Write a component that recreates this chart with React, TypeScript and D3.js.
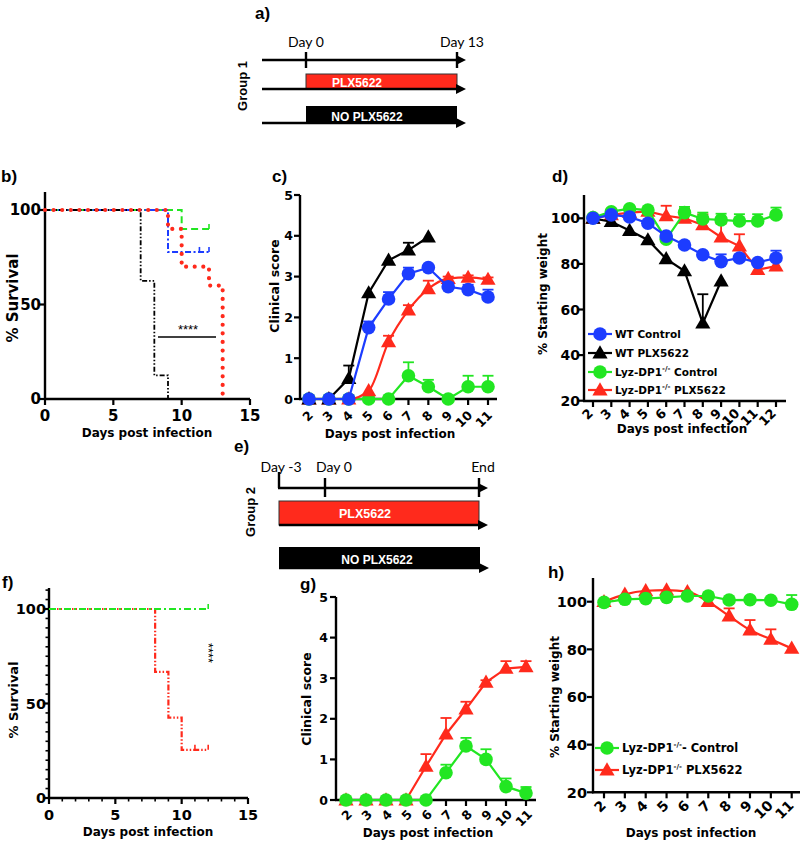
import React from 'react'
import * as d3 from 'd3'

const BOLD = "'DejaVu Sans', sans-serif"
const ARIAL = "'Liberation Sans', Arial, sans-serif"
const THIN = "Lato, 'Open Sans', sans-serif"

const RED = '#ff2a1c'
const GREEN = '#22e622'
const BLUE = '#1c3cff'
const BLACK = '#000'

// b) survival, group 1   [day, % survival]
const survB_WTControl = [[0, 100], [9, 77.8], [12, 77.8]]
const survB_WTPLX = [[0, 100], [7, 62.5], [8, 12.5], [9, 0]]
const survB_KOControl = [[0, 100], [10, 90], [12, 90]]
const survB_KOPLX = [[0, 100], [9, 90], [10, 70], [12, 60], [13, 0]]
const censorB_WTControl = [11.3, 12]
const censorB_KOControl = [12]

// f) survival, group 2
const survF_KOControl = [[0, 100], [12, 100]]
const survF_KOPLX = [[0, 100], [8, 66.7], [9, 42.5], [10, 25.5], [12, 25.5]]
const censorF_KOControl = [12]
const censorF_KOPLX = [11, 12]

const survTicks = [0, 50, 100]
const kmDayTicks = [0, 5, 10, 15]

// c) clinical score, group 1
const daysC = [2, 3, 4, 5, 6, 7, 8, 9, 10, 11]
const scoreC_WTControl = [0, 0, 0, 1.75, 2.45, 3.07, 3.22, 2.75, 2.68, 2.5]
const scoreC_WTControlErr = [0, 0, 0, 0.15, 0.17, 0.15, 0, 0.1, 0.12, 0.18]
const daysC_WTPLX = [2, 3, 4, 5, 6, 7, 8]
const scoreC_WTPLX = [0, 0, 0.5, 2.6, 3.4, 3.65, 3.97]
const scoreC_WTPLXErr = [0, 0, 0.32, 0, 0, 0.18, 0]
const scoreC_KOControl = [0, 0, 0, 0, 0, 0.57, 0.3, 0, 0.3, 0.3]
const scoreC_KOControlErr = [0, 0, 0, 0, 0, 0.33, 0.17, 0, 0.27, 0.27]
const scoreC_KOPLX = [0, 0, 0, 0.2, 1.4, 2.18, 2.7, 2.95, 2.98, 2.93]
const scoreC_KOPLXErr = [0, 0, 0, 0, 0.15, 0.12, 0.2, 0.05, 0.05, 0.05]

// d) weight, group 1
const daysD = [2, 3, 4, 5, 6, 7, 8, 9, 10, 11, 12]
const wtD_WTControl = [100, 101.5, 100.6, 97.8, 92.2, 88.3, 84, 81, 82.6, 80.6, 82.6]
const wtD_WTControlErr = [0, 0, 0, 0, 0, 0, 0, 3.2, 0, 0, 3.2]
const daysD_WTPLX = [2, 3, 4, 5, 6, 7, 8, 9]
const wtD_WTPLX = [100, 98.5, 94.6, 90.5, 82.2, 76.9, 54, 72.5]
const wtD_WTPLXErr = [0, 0, 0, 0, 0, 0, 12.7, 0]
const wtD_KOControl = [100.3, 102.9, 104.2, 103.6, 90.8, 102.5, 99.7, 99.3, 98.8, 98.8, 101.5]
const wtD_KOControlErr = [0, 0, 0, 0, 0, 2.5, 2.8, 2.7, 3, 3, 3.2]
const wtD_KOPLX = [100, 101.5, 102.5, 103, 101.1, 100, 97.1, 91.7, 87.8, 77.5, 79]
const wtD_KOPLXErr = [0, 0, 0, 0, 4.4, 4.2, 4.6, 6, 5.2, 0, 0]

// g) clinical score, group 2
const daysG = [2, 3, 4, 5, 6, 7, 8, 9, 10, 11]
const scoreG_KOControl = [0, 0, 0, 0, 0, 0.67, 1.33, 1.0, 0.33, 0.17]
const scoreG_KOControlErr = [0, 0, 0, 0, 0, 0.2, 0.2, 0.25, 0.2, 0.15]
const scoreG_KOPLX = [0, 0, 0, 0, 0.83, 1.62, 2.24, 2.9, 3.24, 3.28]
const scoreG_KOPLXErr = [0, 0, 0, 0, 0.3, 0.4, 0.18, 0.05, 0.18, 0.14]

// h) weight, group 2
const daysH = [2, 3, 4, 5, 6, 7, 8, 9, 10, 11]
const wtH_KOControl = [99.7, 101, 101.3, 101.8, 102.4, 102.4, 100.7, 100.8, 100.6, 98.9]
const wtH_KOControlErr = [0, 0, 0, 0, 0, 0, 0, 0, 0, 3.9]
const wtH_KOPLX = [100, 103.1, 104.6, 104.9, 104.2, 100, 94, 88.1, 84.2, 80.4]
const wtH_KOPLXErr = [0, 0, 0, 0, 0, 0, 3.2, 4.2, 4.2, 0]

const scoreTicks = [0, 1, 2, 3, 4, 5]
const weightTicks = [20, 40, 60, 80, 100]

const triPath = d3.symbol().type(d3.symbolTriangle).size(100)()

function Marker({ cx, cy, color, shape }) {
  if (shape === 'tri') return <path d={triPath} transform={`translate(${cx},${cy + 1})`} fill={color} />
  return <circle cx={cx} cy={cy} r={6.8} fill={color} />
}

function LeftAxis({ y, x, top, ticks, fs, minor = [] as number[], labelX }) {
  const bottom = y.range()[0]
  return (
    <g>
      <line x1={x} x2={x} y1={top} y2={bottom + 1} stroke="#000" strokeWidth={2.4} />
      {minor.map(t => <line key={'m' + t} x1={x - 3.5} x2={x} y1={y(t)} y2={y(t)} stroke="#000" strokeWidth={1.6} />)}
      {ticks.map(t => (
        <g key={t}>
          <line x1={x - 6} x2={x} y1={y(t)} y2={y(t)} stroke="#000" strokeWidth={2.2} />
          <text x={labelX} y={y(t)} dy="0.36em" textAnchor="end" fontFamily={BOLD} fontWeight="bold" fontSize={fs}>{t}</text>
        </g>
      ))}
    </g>
  )
}

function KMBottomAxis({ x, y0, ticks, fs, minor = [] as number[] }) {
  const [a, b] = x.range()
  return (
    <g>
      <line x1={a - 1} x2={b} y1={y0} y2={y0} stroke="#000" strokeWidth={2.4} />
      {minor.map(t => <line key={'m' + t} x1={x(t)} x2={x(t)} y1={y0} y2={y0 + 3.5} stroke="#000" strokeWidth={1.6} />)}
      {ticks.map(t => (
        <g key={t}>
          <line x1={x(t)} x2={x(t)} y1={y0} y2={y0 + 6} stroke="#000" strokeWidth={2.2} />
          <text x={x(t)} y={y0 + 22} textAnchor="middle" fontFamily={BOLD} fontWeight="bold" fontSize={fs}>{t}</text>
        </g>
      ))}
    </g>
  )
}

function DayAxis({ x, y0, days, x0, x1, fs, dx, dy }) {
  return (
    <g>
      <line x1={x0} x2={x1} y1={y0} y2={y0} stroke="#000" strokeWidth={2.4} />
      {days.map(d => (
        <g key={d}>
          <line x1={x(d)} x2={x(d)} y1={y0} y2={y0 + 6} stroke="#000" strokeWidth={2.2} />
          <text transform={`translate(${x(d) + dx},${y0 + dy}) rotate(-45)`} textAnchor="end"
            fontFamily={BOLD} fontWeight="bold" fontSize={fs}>{d}</text>
        </g>
      ))}
    </g>
  )
}

function KMCurve({ x, y, pts, color, dash, width = 2, cap = 'butt', censor = [] as number[] }) {
  const line = d3.line<number[]>().x(p => x(p[0])).y(p => y(p[1])).curve(d3.curveStepAfter)
  const last = pts[pts.length - 1][1]
  return (
    <g>
      <path d={line(pts) || ''} fill="none" stroke={color} strokeWidth={width} strokeDasharray={dash} strokeLinecap={cap} />
      {censor.map(c => <line key={c} x1={x(c)} x2={x(c)} y1={y(last)} y2={y(last) - 5} stroke={color} strokeWidth={1.6} />)}
    </g>
  )
}

function Series({ x, y, days, vals, errs, color, shape, curve = d3.curveLinear }) {
  const line = d3.line<number>().x((_, i) => x(days[i])).y(v => y(v)).curve(curve)
  return (
    <g>
      <path d={line(vals) || ''} fill="none" stroke={color} strokeWidth={2.2} />
      {vals.map((v, i) => errs[i] > 0 ? (
        <g key={'e' + i}>
          <line x1={x(days[i])} x2={x(days[i])} y1={y(v)} y2={y(v + errs[i])} stroke={color} strokeWidth={1.8} />
          <line x1={x(days[i]) - 5.5} x2={x(days[i]) + 5.5} y1={y(v + errs[i])} y2={y(v + errs[i])} stroke={color} strokeWidth={1.8} />
        </g>
      ) : null)}
      {vals.map((v, i) => <Marker key={i} cx={x(days[i])} cy={y(v)} color={color} shape={shape} />)}
    </g>
  )
}

function LegendItem({ x, y, color, shape, fs, children }) {
  return (
    <g>
      <line x1={x - 12} x2={x + 12} y1={y} y2={y} stroke={color} strokeWidth={2.2} />
      <Marker cx={x} cy={y} color={color} shape={shape} />
      <text x={x + 15} y={y + 4} fontFamily={BOLD} fontWeight="bold" fontSize={fs}>{children}</text>
    </g>
  )
}

function Lyz({ rest }) {
  return (
    <>
      <tspan>Lyz-DP1</tspan>
      <tspan dy={-5} fontSize={7}>-/-</tspan>
      <tspan dy={5}>{rest}</tspan>
    </>
  )
}

function Arrow({ x1, x2, y }) {
  return (
    <g>
      <line x1={x1} x2={x2 - 6} y1={y} y2={y} stroke="#000" strokeWidth={2.6} />
      <path d={`M${x2},${y} L${x2 - 10},${y - 5} L${x2 - 10},${y + 5} Z`} fill="#000" />
    </g>
  )
}

function YTitle({ x, y, fs, children }) {
  return (
    <text transform={`translate(${x},${y}) rotate(-90)`} textAnchor="middle"
      fontFamily={BOLD} fontWeight="bold" fontSize={fs}>{children}</text>
  )
}

function XTitle({ x, y, fs = 12, children }) {
  return <text x={x} y={y} textAnchor="middle" fontFamily={BOLD} fontWeight="bold" fontSize={fs}>{children}</text>
}

function PanelLabel({ x, y, children }) {
  return <text x={x} y={y} fontFamily={ARIAL} fontWeight="bold" fontSize={17}>{children}</text>
}

export default function App() {
  // scales
  const xB = d3.scaleLinear().domain([0, 15]).range([45, 250])
  const yB = d3.scaleLinear().domain([0, 100]).range([399, 210])
  const xF = d3.scaleLinear().domain([0, 15]).range([49, 248])
  const yF = d3.scaleLinear().domain([0, 100]).range([798, 609])
  const xC = d3.scaleLinear().domain([2, 11]).range([309, 488])
  const yC = d3.scaleLinear().domain([0, 5]).range([399, 195])
  const xG = d3.scaleLinear().domain([2, 11]).range([346, 526])
  const yG = d3.scaleLinear().domain([0, 5]).range([800, 597])
  const xD = d3.scaleLinear().domain([2, 12]).range([593, 776])
  const yD = d3.scaleLinear().domain([20, 100]).range([400.7, 218.3])
  const xH = d3.scaleLinear().domain([2, 11]).range([604, 791.7])
  const yH = d3.scaleLinear().domain([20, 100]).range([792.3, 601.7])

  const minorSurv = d3.range(0, 111, 5).filter(t => t % 50 !== 0)
  const minorDays = d3.range(0, 16).filter(t => t % 5 !== 0)

  return (
    <svg width={800} height={844} style={{ position: 'absolute', left: 0, top: 0, background: '#fff' }}>
      {/* a) timeline, group 1 */}
      <PanelLabel x={255} y={19}>a)</PanelLabel>
      <text transform="translate(247,86) rotate(-90)" textAnchor="middle" fontFamily={ARIAL} fontWeight="bold" fontSize={13}>Group 1</text>
      <text x={306} y={47} textAnchor="middle" fontFamily={THIN} fontSize={14}>Day 0</text>
      <text x={462} y={47} textAnchor="middle" fontFamily={THIN} fontSize={14}>Day 13</text>
      <Arrow x1={262} x2={466} y={60} />
      <line x1={306} x2={306} y1={52} y2={68} stroke="#000" strokeWidth={2.4} />
      <line x1={457} x2={457} y1={52} y2={68} stroke="#000" strokeWidth={2.4} />
      <rect x={306} y={74} width={151} height={15} fill={RED} stroke="#333" strokeWidth={1} />
      <Arrow x1={262} x2={466} y={89} />
      <text x={357} y={87} textAnchor="middle" fill="#fff" fontFamily={ARIAL} fontWeight="bold" fontSize={12}>PLX5622</text>
      <rect x={306} y={106} width={151} height={17} fill="#000" />
      <Arrow x1={262} x2={466} y={123} />
      <text x={367} y={121} textAnchor="middle" fill="#fff" fontFamily={ARIAL} fontWeight="bold" fontSize={12}>NO PLX5622</text>

      {/* b) survival group 1 */}
      <PanelLabel x={1} y={182}>b)</PanelLabel>
      <LeftAxis y={yB} x={45} top={192} ticks={survTicks} fs={15} labelX={41} />
      <KMBottomAxis x={xB} y0={399} ticks={kmDayTicks} fs={15} />
      <KMCurve x={xB} y={yB} pts={survB_KOControl} color={GREEN} dash="7 4" censor={censorB_KOControl} />
      <KMCurve x={xB} y={yB} pts={survB_WTControl} color={BLUE} dash="6 2.5 2 2.5" censor={censorB_WTControl} />
      <KMCurve x={xB} y={yB} pts={survB_WTPLX} color={BLACK} dash="5 2 1.5 2 1.5 2" width={1.8} />
      <KMCurve x={xB} y={yB} pts={survB_KOPLX} color={RED} dash="0 8.6" width={4.2} cap="round" />
      <line x1={158} x2={216} y1={337} y2={337} stroke="#000" strokeWidth={1.5} />
      <text x={188} y={334} textAnchor="middle" fontFamily={ARIAL} fontSize={13}>****</text>
      <YTitle x={18} y={298} fs={15}>% Survival</YTitle>
      <XTitle x={147} y={437}>Days post infection</XTitle>

      {/* c) clinical score group 1 */}
      <PanelLabel x={272} y={182}>c)</PanelLabel>
      <LeftAxis y={yC} x={300} top={195} ticks={scoreTicks} fs={12.5} labelX={293} />
      <DayAxis x={xC} y0={399} days={daysC} x0={299} x1={497} fs={12.5} dx={5} dy={17} />
      <Series x={xC} y={yC} days={daysC} vals={scoreC_KOControl} errs={scoreC_KOControlErr} color={GREEN} shape="circle" />
      <Series x={xC} y={yC} days={daysC} vals={scoreC_KOPLX} errs={scoreC_KOPLXErr} color={RED} shape="tri" curve={d3.curveMonotoneX} />
      <Series x={xC} y={yC} days={daysC_WTPLX} vals={scoreC_WTPLX} errs={scoreC_WTPLXErr} color={BLACK} shape="tri" />
      <Series x={xC} y={yC} days={daysC} vals={scoreC_WTControl} errs={scoreC_WTControlErr} color={BLUE} shape="circle" />
      <YTitle x={279} y={286} fs={12.5}>Clinical score</YTitle>
      <XTitle x={390} y={438}>Days post infection</XTitle>

      {/* d) weight group 1 */}
      <PanelLabel x={552} y={182}>d)</PanelLabel>
      <LeftAxis y={yD} x={584} top={195} ticks={weightTicks} fs={14} labelX={580} />
      <DayAxis x={xD} y0={401} days={daysD} x0={583} x1={786} fs={13} dx={1} dy={13} />
      <Series x={xD} y={yD} days={daysD} vals={wtD_KOPLX} errs={wtD_KOPLXErr} color={RED} shape="tri" />
      <Series x={xD} y={yD} days={daysD_WTPLX} vals={wtD_WTPLX} errs={wtD_WTPLXErr} color={BLACK} shape="tri" />
      <Series x={xD} y={yD} days={daysD} vals={wtD_KOControl} errs={wtD_KOControlErr} color={GREEN} shape="circle" />
      <Series x={xD} y={yD} days={daysD} vals={wtD_WTControl} errs={wtD_WTControlErr} color={BLUE} shape="circle" />
      <LegendItem x={600} y={334} color={BLUE} shape="circle" fs={10.5}>WT Control</LegendItem>
      <LegendItem x={600} y={353} color={BLACK} shape="tri" fs={10.5}>WT PLX5622</LegendItem>
      <LegendItem x={600} y={372} color={GREEN} shape="circle" fs={10.5}><Lyz rest=" Control" /></LegendItem>
      <LegendItem x={600} y={390} color={RED} shape="tri" fs={10.5}><Lyz rest=" PLX5622" /></LegendItem>
      <YTitle x={547} y={294} fs={12}>% Starting weight</YTitle>
      <XTitle x={682} y={433}>Days post infection</XTitle>

      {/* e) timeline, group 2 */}
      <PanelLabel x={234} y={452}>e)</PanelLabel>
      <text transform="translate(255,512) rotate(-90)" textAnchor="middle" fontFamily={ARIAL} fontWeight="bold" fontSize={13}>Group 2</text>
      <text x={281} y={472} textAnchor="middle" fontFamily={THIN} fontSize={14}>Day -3</text>
      <text x={334} y={472} textAnchor="middle" fontFamily={THIN} fontSize={14}>Day 0</text>
      <text x={483} y={472} textAnchor="middle" fontFamily={THIN} fontSize={14}>End</text>
      <line x1={279} x2={279} y1={472} y2={488} stroke="#000" strokeWidth={2.4} />
      <Arrow x1={278} x2={488} y={488} />
      <line x1={325} x2={325} y1={478} y2={497} stroke="#000" strokeWidth={2.4} />
      <line x1={479} x2={479} y1={478} y2={497} stroke="#000" strokeWidth={2.4} />
      <rect x={279} y={501} width={200} height={24} fill={RED} stroke="#333" strokeWidth={1} />
      <Arrow x1={279} x2={488} y={525} />
      <text x={365} y={518} textAnchor="middle" fill="#fff" fontFamily={ARIAL} fontWeight="bold" fontSize={12.5}>PLX5622</text>
      <rect x={279} y={547} width={201} height={21} fill="#000" />
      <Arrow x1={279} x2={489} y={568} />
      <text x={377} y={564} textAnchor="middle" fill="#fff" fontFamily={ARIAL} fontWeight="bold" fontSize={12}>NO PLX5622</text>

      {/* f) survival group 2 */}
      <PanelLabel x={2} y={588}>f)</PanelLabel>
      <LeftAxis y={yF} x={49} top={588} ticks={survTicks} fs={14.5} minor={minorSurv} labelX={46} />
      <KMBottomAxis x={xF} y0={798} ticks={kmDayTicks} fs={14.5} minor={minorDays} />
      <KMCurve x={xF} y={yF} pts={survF_KOPLX} color={RED} dash="6 2 1.5 2 1.5 2" width={2.2} censor={censorF_KOPLX} />
      <KMCurve x={xF} y={yF} pts={survF_KOControl} color={GREEN} dash="7 3 2 3" width={2.2} censor={censorF_KOControl} />
      <text transform="translate(204,653) rotate(90)" textAnchor="middle" fontFamily={ARIAL} fontSize={13}>****</text>
      <YTitle x={18} y={700} fs={13}>% Survival</YTitle>
      <XTitle x={148} y={836}>Days post infection</XTitle>

      {/* g) clinical score group 2 */}
      <PanelLabel x={300} y={590}>g)</PanelLabel>
      <LeftAxis y={yG} x={336} top={597} ticks={scoreTicks} fs={12.5} labelX={328} />
      <DayAxis x={xG} y0={800} days={daysG} x0={335} x1={536} fs={12.5} dx={7} dy={15} />
      <Series x={xG} y={yG} days={daysG} vals={scoreG_KOPLX} errs={scoreG_KOPLXErr} color={RED} shape="tri" />
      <Series x={xG} y={yG} days={daysG} vals={scoreG_KOControl} errs={scoreG_KOControlErr} color={GREEN} shape="circle" />
      <YTitle x={311} y={699} fs={12.5}>Clinical score</YTitle>
      <XTitle x={428} y={837}>Days post infection</XTitle>

      {/* h) weight group 2 */}
      <PanelLabel x={548} y={578}>h)</PanelLabel>
      <LeftAxis y={yH} x={593} top={578} ticks={weightTicks} fs={14.5} labelX={587} />
      <DayAxis x={xH} y0={792.3} days={daysH} x0={592} x1={800} fs={14} dx={3} dy={14} />
      <Series x={xH} y={yH} days={daysH} vals={wtH_KOPLX} errs={wtH_KOPLXErr} color={RED} shape="tri" curve={d3.curveMonotoneX} />
      <Series x={xH} y={yH} days={daysH} vals={wtH_KOControl} errs={wtH_KOControlErr} color={GREEN} shape="circle" />
      <LegendItem x={607} y={748} color={GREEN} shape="circle" fs={11.5}><Lyz rest="- Control" /></LegendItem>
      <LegendItem x={607} y={770} color={RED} shape="tri" fs={11.5}><Lyz rest=" PLX5622" /></LegendItem>
      <YTitle x={559} y={697} fs={12}>% Starting weight</YTitle>
      <XTitle x={691} y={837}>Days post infection</XTitle>
    </svg>
  )
}
